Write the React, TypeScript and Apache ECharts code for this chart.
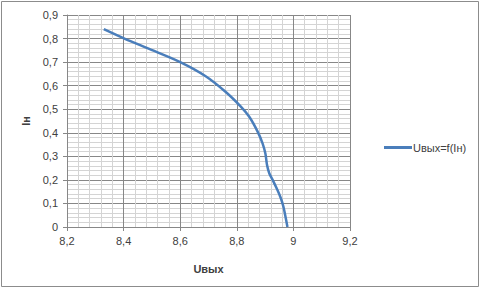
import React, { useEffect, useRef } from "react";
import * as echarts from "echarts";

const seriesName = "Uвых=f(Iн)";
const uOut = [8.33, 8.403, 8.484, 8.6, 8.69, 8.76, 8.815, 8.844, 8.874, 8.891, 8.901, 8.907, 8.915, 8.927, 8.944, 8.956, 8.965, 8.971, 8.979];
const iLoad = [0.84, 0.8, 0.759, 0.7, 0.64, 0.574, 0.51, 0.468, 0.404, 0.355, 0.312, 0.262, 0.227, 0.199, 0.156, 0.121, 0.085, 0.05, 0];

const fmt = (v: number) => String(+v.toFixed(1)).replace(".", ",");

export default function App() {
  const ref = useRef<HTMLDivElement>(null);
  useEffect(() => {
    if (!ref.current) return;
    const chart = echarts.init(ref.current, null, { renderer: "svg" });
    const font = "'Liberation Sans', Arial, sans-serif";
    const major = "#878787";
    const minor = "#d4d4d4";
    chart.setOption({
      animation: false,
      backgroundColor: "#ffffff",
      textStyle: { fontFamily: font },
      graphic: [
        {
          type: "rect",
          shape: { x: 1.5, y: 1.5, width: 477, height: 285 },
          style: { fill: "none", stroke: "#8c8c8c", lineWidth: 1 },
          silent: true,
        },
      ],
      grid: { left: 67, top: 15, width: 283, height: 212 },
      legend: {
        left: 379,
        top: 137,
        icon: "rect",
        itemWidth: 28,
        itemHeight: 3,
        textStyle: { fontSize: 11, color: "#404040", fontFamily: font, padding: [0, 0, 0, -4] },
        data: [{ name: seriesName }],
      },
      xAxis: {
        type: "value",
        min: 8.2,
        max: 9.2,
        interval: 0.2,
        name: "Uвых",
        nameLocation: "middle",
        nameGap: 36,
        nameTextStyle: { fontSize: 11, fontWeight: "bold", color: "#404040", fontFamily: font },
        axisLine: { show: true, onZero: false, lineStyle: { color: major } },
        axisTick: { show: true, length: 4, lineStyle: { color: major } },
        axisLabel: { fontSize: 11, color: "#404040", margin: 8, formatter: fmt },
        splitLine: { show: true, lineStyle: { color: major, width: 1 } },
        minorTick: { show: false, splitNumber: 5 },
        minorSplitLine: { show: true, lineStyle: { color: minor, width: 1 } },
      },
      yAxis: {
        type: "value",
        min: 0,
        max: 0.9,
        interval: 0.1,
        name: "Iн",
        nameLocation: "middle",
        nameRotate: 90,
        nameGap: 36,
        nameTextStyle: { fontSize: 11, fontWeight: "bold", color: "#404040", fontFamily: font },
        axisLine: { show: true, onZero: false, lineStyle: { color: major } },
        axisTick: { show: true, length: 4, lineStyle: { color: major } },
        axisLabel: { fontSize: 11, color: "#404040", margin: 9, formatter: fmt },
        splitLine: { show: true, lineStyle: { color: major, width: 1 } },
        minorTick: { show: false, splitNumber: 5 },
        minorSplitLine: { show: true, lineStyle: { color: minor, width: 1 } },
      },
      series: [
        {
          name: seriesName,
          type: "line",
          data: uOut.map((u, i) => [u, iLoad[i]]),
          symbol: "none",
          smooth: 0.3,
          lineStyle: { color: "#4a7ebb", width: 2.5 },
          itemStyle: { color: "#4a7ebb" },
        },
      ],
    });
    return () => chart.dispose();
  }, []);
  return <div ref={ref} style={{ width: 481, height: 288, position: "absolute", left: 0, top: 0 }} />;
}
